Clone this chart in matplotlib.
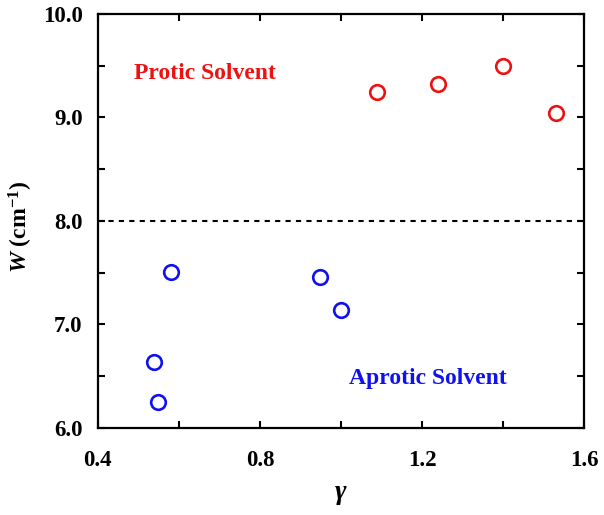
import matplotlib
matplotlib.use('Agg')
import matplotlib.pyplot as plt
from matplotlib.ticker import MultipleLocator, FuncFormatter

# data
protic_gamma = [1.09, 1.24, 1.40, 1.53]
protic_w = [9.25, 9.32, 9.50, 9.04]
aprotic_gamma = [0.58, 0.948, 1.00, 0.538, 0.548]
aprotic_w = [7.51, 7.46, 7.14, 6.64, 6.25]
threshold = 8.0

plt.rcParams['font.family'] = ['Liberation Serif', 'DejaVu Serif']
plt.rcParams['font.weight'] = 'bold'
plt.rcParams['mathtext.fontset'] = 'custom'
plt.rcParams['mathtext.rm'] = 'Liberation Serif:bold'
plt.rcParams['mathtext.it'] = 'Liberation Serif:italic:bold'
plt.rcParams['mathtext.bf'] = 'Liberation Serif:bold'

fig = plt.figure(figsize=(6.04, 5.15), dpi=100)
ax = fig.add_axes([0.162, 0.169, 0.805, 0.804])

ax.plot(protic_gamma, protic_w, 'o', mfc='none', mec='#ee1111', ms=10.5, mew=1.9)
ax.plot(aprotic_gamma, aprotic_w, 'o', mfc='none', mec='#1111ee', ms=10.5, mew=1.9)
ax.axhline(threshold, color='black', ls=(0, (2.5, 2.5)), lw=1.5)

ax.text(0.49, 9.42, 'Protic Solvent', color='#ee1111', fontsize=17,
        fontweight='bold', va='center')
ax.text(1.02, 6.48, 'Aprotic Solvent', color='#1111ee', fontsize=17,
        fontweight='bold', va='center')

ax.set_xlim(0.4, 1.6)
ax.set_ylim(6.0, 10.0)
ax.xaxis.set_major_locator(MultipleLocator(0.2))
ax.yaxis.set_major_locator(MultipleLocator(0.5))
ax.xaxis.set_major_formatter(FuncFormatter(
    lambda v, p: f'{v:.1f}' if abs(round(v / 0.4) * 0.4 - v) < 1e-6 else ''))
ax.yaxis.set_major_formatter(FuncFormatter(
    lambda v, p: f'{v:.1f}' if abs(round(v) - v) < 1e-6 else ''))

ax.tick_params(direction='in', length=5, width=1.5, labelsize=16.5,
               top=True, right=True)
ax.tick_params(axis='x', pad=16)
ax.tick_params(axis='y', pad=11)
for s in ax.spines.values():
    s.set_linewidth(1.6)

ax.set_xlabel(r'$\gamma$', fontsize=20, fontweight='bold', labelpad=8)
ax.set_ylabel(r'$W$ (cm$^{-1}$)', fontsize=17, fontweight='bold')
ax.yaxis.set_label_coords(-0.13, 0.485)

fig.savefig('out.png', dpi=100)
